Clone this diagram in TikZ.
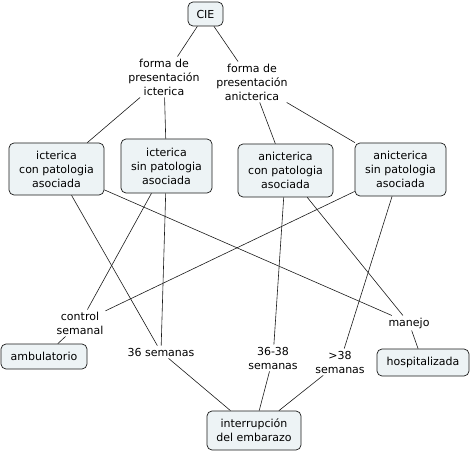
\documentclass[tikz,border=0pt]{standalone}
\usepackage{fontspec}
\setmainfont{DejaVu Sans}
\definecolor{boxfill}{HTML}{EDF3F5}
\definecolor{edgecol}{HTML}{1A1A1A}
\begin{document}
\begin{tikzpicture}[x=1pt,y=-1pt,
  every node/.style={font=\fontsize{11}{14}\selectfont, align=center},
  concept/.style={draw=edgecol, fill=boxfill, rounded corners=5pt, line width=0.7pt, inner sep=0pt},
  link/.style={inner sep=2pt},
  conn/.style={draw=edgecol, line width=0.6pt}]
\useasboundingbox (0,0) rectangle (472,452);
% concepts
\node[concept, minimum width=35pt, minimum height=24pt] (cie) at (205.5,14) {CIE};
\node[concept, minimum width=95pt, minimum height=52pt] (b1) at (56.5,169) {icterica\\con patologia\\asociada};
\node[concept, minimum width=91pt, minimum height=54pt] (b2) at (166.5,166) {icterica\\sin patologia\\asociada};
\node[concept, minimum width=95pt, minimum height=53pt] (b3) at (285.5,170.5) {anicterica\\con patologia\\asociada};
\node[concept, minimum width=91pt, minimum height=53pt] (b4) at (400.5,169.5) {anicterica\\sin patologia\\asociada};
\node[concept, minimum width=86pt, minimum height=25pt] (amb) at (44,356.5) {ambulatorio};
\node[concept, minimum width=92pt, minimum height=27pt] (hos) at (423,362.5) {hospitalizada};
\node[concept, minimum width=94pt, minimum height=39pt] (int) at (254,430.5) {interrupción\\del embarazo};
% linking phrases
\node[link] (l1) at (164,77) {forma de\\presentación\\icterica};
\node[link] (l2) at (252,82) {forma de\\presentación\\anicterica};
\node[link] (cs) at (80,323) {control\\semanal};
\node[link] (s36) at (161,352) {36 semanas};
\node[link] (s3638) at (273,358) {36-38\\semanas};
\node[link] (s38) at (340,362) {>38\\semanas};
\node[link] (man) at (409,323) {manejo};
% connectors
\draw[conn] (cie) -- (l1);
\draw[conn] (cie) -- (l2);
\draw[conn] (l1) -- (b1);
\draw[conn] (l1) -- (b2);
\draw[conn] (l2) -- (b3);
\draw[conn] (l2) -- (b4);
\draw[conn] (b1) -- (s36);
\draw[conn] (b1) -- (man);
\draw[conn] (b2) -- (cs);
\draw[conn] (b2) -- (s36);
\draw[conn] (b3) -- (s3638);
\draw[conn] (b3) -- (man);
\draw[conn] (b4) -- (cs);
\draw[conn] (b4) -- (s38);
\draw[conn] (cs) -- (amb);
\draw[conn] (man) -- (hos);
\draw[conn] (s36) -- (int);
\draw[conn] (s3638) -- (int);
\draw[conn] (s38) -- (int);
\end{tikzpicture}
\end{document}
